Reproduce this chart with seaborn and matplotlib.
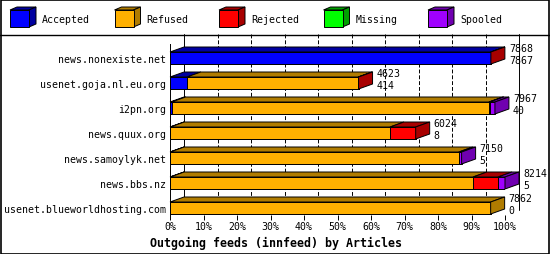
import numpy as np
import pandas as pd
import matplotlib
matplotlib.use("Agg")
import matplotlib.pyplot as plt
import seaborn as sns
from matplotlib.patches import Polygon, Rectangle
from matplotlib.lines import Line2D

# ---- data ----
hosts = ["news.nonexiste.net", "usenet.goja.nl.eu.org", "i2pn.org", "news.quux.org",
         "news.samoylyk.net", "news.bbs.nz", "usenet.blueworldhosting.com"]
offered = [7868, 4623, 7967, 6024, 7150, 8214, 7862]
accepted = [7867, 414, 40, 8, 5, 5, 0]
refused = [0, 4200, 7780, 5386, 7075, 7424, 7862]
rejected = [1, 9, 20, 630, 0, 613, 0]
missing = [0, 0, 0, 0, 0, 0, 0]
spooled = [0, 0, 127, 0, 70, 172, 0]
series_names = ["Accepted", "Refused", "Rejected", "Missing", "Spooled"]
tick_labels = ["0%", "10%", "20%", "30%", "40%", "50%", "60%", "70%", "80%", "90%", "100%"]
title = "Outgoing feeds (innfeed) by Articles"

front_colors = ["#0000ff", "#ffb000", "#ff0000", "#00ff00", "#a000ff"]
dark_colors = ["#0000a0", "#b07c00", "#a80000", "#00a000", "#7000b0"]

W, H = 550, 255
sns.set_theme(style="white")
plt.rcParams["font.family"] = ["DejaVu Sans Mono"]
FS = 7.1
LW = 0.7

fig = plt.figure(figsize=(W / 100, H / 100), dpi=100)
fig.patch.set_facecolor("white")

X0, X1, Y0, Y1 = 170, 505, 35, 216
ax = fig.add_axes([X0 / W, 1 - Y1 / H, (X1 - X0) / W, (Y1 - Y0) / H])
ax.set_facecolor("none")

vals = np.array([accepted, refused, rejected, missing, spooled], dtype=float)
cum = np.cumsum(vals, axis=0)
xmax = float(max(offered))
px_x = xmax / (X1 - X0)          # data units per pixel in x
row_px = 25.0
dx = 14 * px_x
dy = 5 / row_px
bw = 12 / row_px

ytop = (Y0 - 59) / row_px
ybot = (Y1 - 59) / row_px

# back wall grid lines
for k in range(11):
    xg = k * xmax / 10 + dx
    ls = "-" if k in (0, 10) else (0, (4, 2))
    ax.add_line(Line2D([xg, xg], [ytop, ybot - dy], color="black", lw=LW,
                       linestyle=ls, zorder=0, clip_on=False))

# front faces via seaborn (layered cumulative bars)
for j in range(len(series_names) - 1, -1, -1):
    df = pd.DataFrame({"host": hosts, "value": cum[j]})
    sns.barplot(data=df, x="value", y="host", orient="h", color=front_colors[j],
                saturation=1, width=bw, edgecolor="black", linewidth=LW,
                errorbar=None, ax=ax, zorder=3)

# 3D top and side faces
for i in range(len(hosts)):
    yt = i - bw / 2
    yb = i + bw / 2
    last = None
    start = 0.0
    for j in range(len(series_names)):
        w = vals[j, i]
        if w <= 0:
            continue
        a, b = start, start + w
        ax.add_patch(Polygon([(a, yt), (b, yt), (b + dx, yt - dy), (a + dx, yt - dy)],
                             closed=True, facecolor=dark_colors[j], edgecolor="black",
                             lw=LW, zorder=4, clip_on=False))
        last = (j, b)
        start = b
    if last is not None:
        j, b = last
        ax.add_patch(Polygon([(b, yt), (b + dx, yt - dy), (b + dx, yb - dy), (b, yb)],
                             closed=True, facecolor=dark_colors[j], edgecolor="black",
                             lw=LW, zorder=5, clip_on=False))
    xt = cum[-1, i] + dx + 4 * px_x
    ax.text(xt, i - 0.40, str(offered[i]), fontsize=FS, va="center", ha="left",
            clip_on=False, color="black")
    ax.text(xt, i + 0.10, str(accepted[i]), fontsize=FS, va="center", ha="left",
            clip_on=False, color="black")

ax.set_xlim(0, xmax)
ax.set_ylim(ybot, ytop)
ax.set_xticks([k * xmax / 10 for k in range(11)])
ax.set_xticklabels(tick_labels)
ax.set_yticks(range(len(hosts)))
ax.set_yticklabels(hosts)
ax.set_xlabel("")
ax.set_ylabel("")
ax.tick_params(axis="x", bottom=True, direction="out", length=3.6, width=LW,
               color="black", labelsize=FS, pad=1, labelcolor="black")
ax.tick_params(axis="y", left=False, length=0, labelsize=FS, pad=3, labelcolor="black")
for s in ["top", "right", "bottom"]:
    ax.spines[s].set_visible(False)
ax.spines["left"].set_color("black")
ax.spines["left"].set_linewidth(LW)
ax.spines["left"].set_bounds((45 - 59) / row_px, ybot)
ax.spines["left"].set_zorder(6)

# title
fig.text(150 / W, 1 - 243 / H, title, fontsize=8.4, fontweight="bold",
         va="center", ha="left", color="black")

# legend strip
lg = fig.add_axes([0, 1 - 35 / H, 1, 35 / H])
lg.set_xlim(0, W)
lg.set_ylim(35, 0)
lg.axis("off")
for k, name in enumerate(series_names):
    x0 = 10 + 104.5 * k
    lg.add_patch(Polygon([(x0, 11), (x0 + 19, 11), (x0 + 26, 8), (x0 + 7, 8)], closed=True,
                         facecolor=dark_colors[k], edgecolor="black", lw=LW))
    lg.add_patch(Polygon([(x0 + 19, 11), (x0 + 26, 8), (x0 + 26, 25), (x0 + 19, 28)],
                         closed=True, facecolor=dark_colors[k], edgecolor="black", lw=LW))
    lg.add_patch(Rectangle((x0, 11), 19, 17, facecolor=front_colors[k],
                           edgecolor="black", lw=LW))
    lg.text(x0 + 32, 20, name, fontsize=FS, va="center", ha="left", color="black")

# separator and border
fig.add_artist(Line2D([0, 1], [1 - 35.5 / H, 1 - 35.5 / H], color="black", lw=1.0,
                      transform=fig.transFigure))
fig.add_artist(Rectangle((0.5 / W, 0.5 / H), 1 - 1.5 / W, 1 - 1.5 / H, fill=False,
                         edgecolor="black", lw=1.2, transform=fig.transFigure))

fig.savefig("out.png", dpi=100, facecolor="white")
